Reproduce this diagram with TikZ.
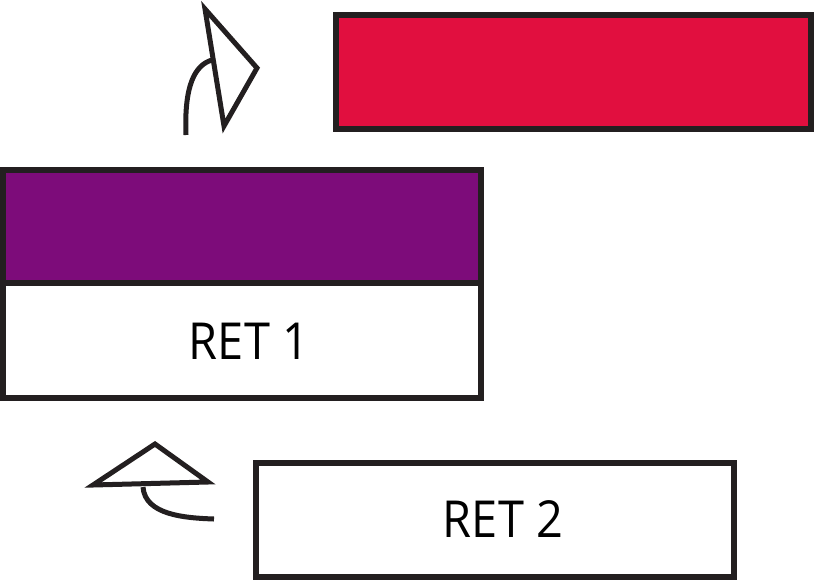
\documentclass[tikz,border=0pt]{standalone}
\usepackage{fontspec}
\setmainfont{Open Sans}
\definecolor{ink}{HTML}{231F20}
\definecolor{redfill}{HTML}{E10F3F}
\definecolor{purplefill}{HTML}{7D0C7A}
\begin{document}
\begin{tikzpicture}[x=1pt,y=-1pt,
  box/.style={draw=ink,line width=6pt,outer sep=0pt,inner sep=0pt},
  label/.style={font=\fontsize{51}{60}\selectfont,inner sep=0pt,xscale=0.92},
  arrowline/.style={draw=ink,line width=5pt,line join=miter,fill=white},
  shaft/.style={draw=ink,line width=5pt}]
\useasboundingbox (0,0) rectangle (816,581);
\node[box,fill=redfill,minimum width=475pt,minimum height=114pt] (red) at (573.5,71.6) {};
\node[box,fill=purplefill,minimum width=478pt,minimum height=113.5pt] (purple) at (242,226.25) {};
\node[box,fill=white,minimum width=478pt,minimum height=115pt] (ret1) at (242,340.5) {};
\node[box,fill=white,minimum width=478pt,minimum height=114pt] (ret2) at (495,520) {};
\node[label] (t1) at (249,341) {RET 1};
\node[label] (t2) at (503,519) {RET 2};
% upper arrow
\draw[shaft] (186,135) .. controls (184,85) and (195,65) .. (212,60);
\draw[arrowline] (205,9) -- (257,68) -- (224,126) -- cycle;
% lower arrow
\draw[arrowline] (93,485) -- (155,444) -- (208,482) -- cycle;
\draw[shaft] (143,487) .. controls (145,515) and (185,518) .. (214,519);
\end{tikzpicture}
\end{document}
